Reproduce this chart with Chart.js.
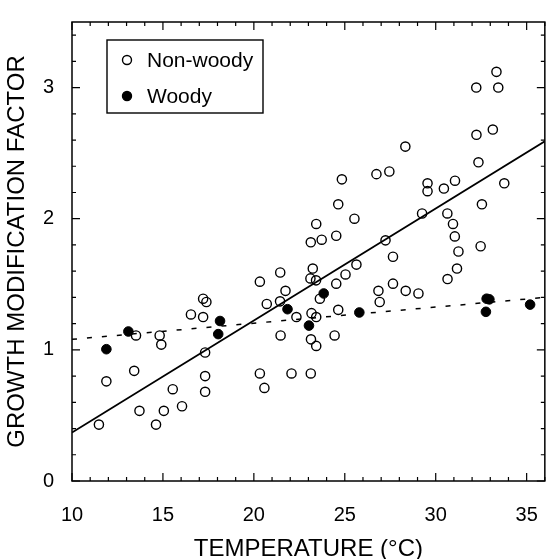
<!DOCTYPE html>
<html>
<head>
<meta charset="utf-8">
<script src="https://cdn.jsdelivr.net/npm/chart.js@4.4.1/dist/chart.umd.min.js"></script>
<style>
  html, body { margin: 0; padding: 0; background: #fff; overflow: hidden; }
  #wrap { width: 547px; height: 559px; overflow: hidden; }
</style>
</head>
<body>
<div id="wrap"><canvas id="myChart" width="552" height="559"></canvas></div>
<script>
// non-woody species (open circles)
const nonWoodyTemp = [
  11.48, 11.89, 13.52, 13.42, 13.71, 14.62, 15.05, 14.82, 14.91, 15.54,
  16.05, 16.54, 17.21, 17.39, 17.21, 17.32, 17.32, 17.32, 20.33, 20.33,
  20.58, 20.71, 21.45, 21.44, 21.74, 21.47, 22.07, 22.34, 23.13, 23.43,
  23.73, 23.24, 23.11, 23.42, 23.63, 23.17, 23.43, 23.14, 23.43, 23.13,
  24.53, 24.64, 24.84, 25.53, 25.64, 25.04, 24.53, 24.64, 24.44, 26.74,
  27.45, 27.24, 27.65, 26.85, 26.92, 27.65, 28.33, 28.35, 29.05, 29.55,
  29.55, 30.45, 31.06, 29.25, 30.64, 30.95, 31.05, 31.25, 31.17, 30.65,
  32.23, 33.34, 33.44, 32.24, 33.14, 32.35, 32.54, 32.47, 33.77
]
const nonWoodyGmf = [
  0.43, 0.76, 1.11, 0.84, 0.535, 0.43, 0.535, 1.11, 1.04, 0.70,
  0.57, 1.27, 1.39, 1.365, 1.25, 0.98, 0.80, 0.68, 1.52, 0.82,
  0.71, 1.35, 1.59, 1.37, 1.45, 1.11, 0.82, 1.25, 1.82, 1.96,
  1.84, 1.62, 1.545, 1.53, 1.39, 1.28, 1.25, 1.08, 1.03, 0.82,
  1.87, 2.11, 2.30, 2.00, 1.65, 1.575, 1.505, 1.305, 1.11, 2.34,
  2.36, 1.835, 1.71, 1.45, 1.365, 1.505, 2.55, 1.45, 1.43, 2.27,
  2.21, 2.23, 2.29, 2.04, 2.04, 1.96, 1.865, 1.75, 1.62, 1.54,
  3.00, 3.12, 3.00, 2.64, 2.68, 2.43, 2.11, 1.79, 2.27
]

// woody species (filled circles)
const woodyTemp = [11.89, 13.10, 18.14, 18.04, 21.85, 23.84, 23.03, 25.80, 32.80, 32.95, 32.76, 35.19]
const woodyGmf  = [1.005, 1.14, 1.22, 1.12, 1.31, 1.43, 1.185, 1.285, 1.39, 1.385, 1.29, 1.345]

// fitted lines, read at the axis ends
const nonWoodyFitTemp = [10, 36]
const nonWoodyFitGmf = [0.37, 2.59]
const woodyFitTemp = [10, 36]
const woodyFitGmf = [1.08, 1.40]

const xTickLabels = [10, 15, 20, 25, 30, 35]
const yTickLabels = [0, 1, 2, 3]

const FONT = "'Liberation Sans', Arial, sans-serif"

function toPoints(xs, ys) {
  return xs.map(function(x, i) { return { x: x, y: ys[i] } })
}

// box frame with inward ticks on all four sides
const framePlugin = {
  id: 'frame',
  afterDatasetsDraw(chart) {
    const ctx = chart.ctx
    const a = chart.chartArea
    const xs = chart.scales.x
    const ys = chart.scales.y
    ctx.save()
    ctx.strokeStyle = '#000'
    ctx.lineWidth = 1.5
    ctx.strokeRect(a.left, a.top, a.right - a.left, a.bottom - a.top)
    ctx.lineWidth = 1.2
    ctx.beginPath()
    for (let v = 10; v <= 36; v++) {
      const len = v % 5 === 0 ? 8 : 4
      const px = xs.getPixelForValue(v)
      ctx.moveTo(px, a.bottom); ctx.lineTo(px, a.bottom - len)
      ctx.moveTo(px, a.top); ctx.lineTo(px, a.top + len)
    }
    for (let k = 0; k <= 17; k++) {
      const v = k * 0.2
      const len = k % 5 === 0 ? 8 : 4
      const py = ys.getPixelForValue(v)
      ctx.moveTo(a.left, py); ctx.lineTo(a.left + len, py)
      ctx.moveTo(a.right, py); ctx.lineTo(a.right - len, py)
    }
    ctx.stroke()
    ctx.restore()
  },
  afterDraw(chart) {
    // legend box in the upper left of the plot
    const ctx = chart.ctx
    const a = chart.chartArea
    const bx = a.left + 35
    const by = a.top + 18
    ctx.save()
    ctx.fillStyle = '#fff'
    ctx.fillRect(bx, by, 156, 73)
    ctx.strokeStyle = '#000'
    ctx.lineWidth = 1.4
    ctx.strokeRect(bx, by, 156, 73)
    ctx.font = '21px ' + FONT
    ctx.textBaseline = 'middle'
    ctx.textAlign = 'left'
    const rows = [chart.data.datasets[0], chart.data.datasets[1]]
    rows.forEach(function(ds, i) {
      const cy = by + 20 + i * 36
      ctx.beginPath()
      ctx.arc(bx + 20, cy, 4.5, 0, Math.PI * 2)
      ctx.lineWidth = 1.4
      ctx.strokeStyle = '#000'
      ctx.fillStyle = ds.backgroundColor === 'transparent' ? '#fff' : '#000'
      ctx.fill()
      ctx.stroke()
      ctx.fillStyle = '#000'
      ctx.fillText(ds.label, bx + 40, cy + 1)
    })
    ctx.restore()
  }
}

const ctx = document.getElementById('myChart').getContext('2d')
const myChart = new Chart(ctx, {
  type: 'scatter',
  data: {
    datasets: [
      {
        label: 'Non-woody',
        data: toPoints(nonWoodyTemp, nonWoodyGmf),
        pointStyle: 'circle',
        pointRadius: 4.6,
        borderWidth: 1.4,
        borderColor: '#000',
        backgroundColor: 'transparent'
      },
      {
        label: 'Woody',
        data: toPoints(woodyTemp, woodyGmf),
        pointStyle: 'circle',
        pointRadius: 4.8,
        borderWidth: 1,
        borderColor: '#000',
        backgroundColor: '#000'
      },
      {
        label: 'Non-woody fit',
        data: toPoints(nonWoodyFitTemp, nonWoodyFitGmf),
        showLine: true,
        pointRadius: 0,
        borderColor: '#000',
        borderWidth: 1.8
      },
      {
        label: 'Woody fit',
        data: toPoints(woodyFitTemp, woodyFitGmf),
        showLine: true,
        pointRadius: 0,
        borderColor: '#000',
        borderWidth: 1.5,
        borderDash: [5, 10]
      }
    ]
  },
  options: {
    responsive: false,
    animation: false,
    devicePixelRatio: 1,
    layout: { padding: { top: 8, right: 2, left: 0, bottom: 0 } },
    plugins: {
      legend: { display: false },
      tooltip: { enabled: false }
    },
    scales: {
      x: {
        type: 'linear',
        min: 10,
        max: 36,
        grid: { display: false },
        border: { display: false },
        ticks: { color: '#000', font: { family: FONT, size: 20 }, padding: 14, maxRotation: 0 },
        afterBuildTicks: function(scale) {
          scale.ticks = xTickLabels.map(function(v) { return { value: v } })
        },
        afterFit: function(scale) { scale.height = 78 },
        title: {
          display: true,
          text: 'TEMPERATURE (°C)',
          color: '#000',
          font: { family: FONT, size: 24, lineHeight: 0.8 },
          padding: 0
        }
      },
      y: {
        type: 'linear',
        min: 0,
        max: 3.5,
        grid: { display: false },
        border: { display: false },
        ticks: { color: '#000', font: { family: FONT, size: 20 }, padding: 10 },
        afterBuildTicks: function(scale) {
          scale.ticks = yTickLabels.map(function(v) { return { value: v } })
        },
        afterFit: function(scale) { scale.width = 72 },
        title: {
          display: true,
          text: 'GROWTH MODIFICATION FACTOR',
          color: '#000',
          font: { family: FONT, size: 24 },
          padding: { top: 3, bottom: 0 }
        }
      }
    }
  },
  plugins: [framePlugin]
})
</script>
</body>
</html>
